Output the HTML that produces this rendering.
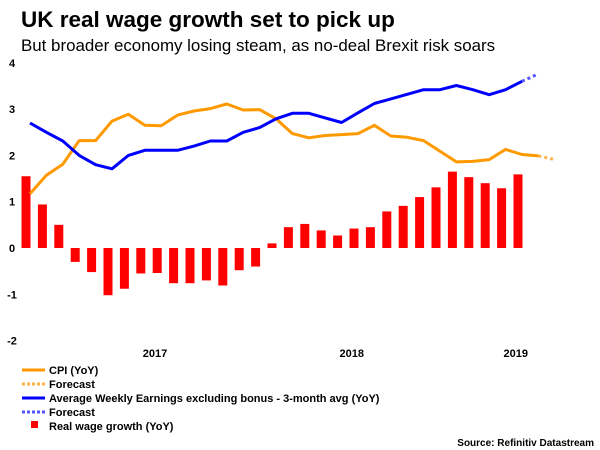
<!DOCTYPE html>
<html><head><meta charset="utf-8"><style>
html,body{margin:0;padding:0;background:#fff;width:600px;height:450px;overflow:hidden}
svg{display:block;font-family:"Liberation Sans",Arial,sans-serif}
</style></head><body>
<svg id="c" width="600" height="450">
<text x="21" y="27" font-size="22.5" font-weight="bold" fill="#000">UK real wage growth set to pick up</text>
<text x="21" y="51" font-size="16.9" fill="#000">But broader economy losing steam, as no-deal Brexit risk soars</text>
<g id="yaxis"></g>
<g id="xaxis"></g>
<g id="bars"></g>
<g id="lines"></g>
<g font-size="11" font-weight="bold">
 <g><line x1="22" y1="370" x2="45" y2="370" stroke="#FF9900" stroke-width="3"/><text x="49" y="374">CPI (YoY)</text></g>
 <g><line x1="22" y1="384" x2="45" y2="384" stroke="#FFB347" stroke-width="3" stroke-dasharray="3,2"/><text x="49" y="388">Forecast</text></g>
 <g><line x1="22" y1="398" x2="45" y2="398" stroke="#0000FF" stroke-width="3"/><text x="49" y="402">Average Weekly Earnings excluding bonus - 3-month avg (YoY)</text></g>
 <g><line x1="22" y1="412" x2="45" y2="412" stroke="#5555FF" stroke-width="3" stroke-dasharray="3,2"/><text x="49" y="416">Forecast</text></g>
 <g><rect x="31" y="421" width="7" height="7" fill="#FF0000"/><text x="49" y="430">Real wage growth (YoY)</text></g>
</g>
<text x="594" y="446" font-size="10" font-weight="bold" text-anchor="end">Source: Refinitiv Datastream</text>
</svg>
<script>
const realWage=[1.55,0.94,0.50,-0.30,-0.52,-1.02,-0.88,-0.55,-0.54,-0.76,-0.76,-0.70,-0.81,-0.48,-0.40,0.10,0.45,0.52,0.38,0.27,0.42,0.45,0.79,0.91,1.10,1.31,1.65,1.53,1.40,1.29,1.59];
const cpi=[1.17,1.57,1.81,2.32,2.32,2.74,2.89,2.65,2.64,2.87,2.96,3.01,3.11,2.98,2.99,2.79,2.47,2.38,2.43,2.45,2.47,2.65,2.42,2.39,2.32,2.09,1.86,1.87,1.91,2.13,2.02,1.99];
const cpiForecast=[1.99,1.91];
const awe=[2.70,2.50,2.31,2.0,1.80,1.71,2.0,2.11,2.11,2.11,2.20,2.31,2.31,2.50,2.60,2.79,2.91,2.91,2.81,2.71,2.92,3.12,3.22,3.32,3.42,3.42,3.51,3.42,3.31,3.42,3.60];
const aweForecast=[3.60,3.76];
const yTicks=[4,3,2,1,0,-1,-2];
const xLabels=["2017","2018","2019"];
const xLabelIdx=[7.5,19.5,29.5];
const NS="http://www.w3.org/2000/svg";
function x(i){return 30+16.4*i;}
function y(v){return 248-46.3*v;}
function mk(tag,attrs,parent){const e=document.createElementNS(NS,tag);for(const k in attrs)e.setAttribute(k,attrs[k]);parent.appendChild(e);return e;}
const ya=document.getElementById('yaxis');
yTicks.forEach(t=>{const e=mk('text',{x:12,y:y(t)+4,'font-size':11,'font-weight':'bold','text-anchor':'middle'},ya);


e.textContent=t;});
const xa=document.getElementById('xaxis');
xLabels.forEach((l,k)=>{const e=mk('text',{x:x(xLabelIdx[k])+2,y:357,'font-size':11,'font-weight':'bold','text-anchor':'middle'},xa);


e.textContent=l;});
const bg=document.getElementById('bars');
realWage.forEach((v,i)=>{const r=mk('rect',{x:x(i)-4-4.5,y:Math.min(y(v),y(0)),width:9,height:Math.abs(y(v)-y(0)),fill:'#FF0000'},bg);

});
const lg=document.getElementById('lines');
function line(arr,off,color,dash,name){const p=arr.map((v,i)=>x(i+off).toFixed(1)+','+y(v).toFixed(1)).join(' ');
const e=mk('polyline',{points:p,fill:'none',stroke:color,'stroke-width':3,'stroke-linejoin':'round'},lg);
if(dash)e.setAttribute('stroke-dasharray',dash);

}
line(cpi,0,'#FF9900',null,'cpi-line');
line(cpiForecast,cpi.length-1,'#FFB347','3,3','cpi-forecast-line');
line(awe,0,'#0000FF',null,'awe-line');
line(aweForecast,awe.length-1,'#5555FF','3,3','awe-forecast-line');
</script>
</body></html>
